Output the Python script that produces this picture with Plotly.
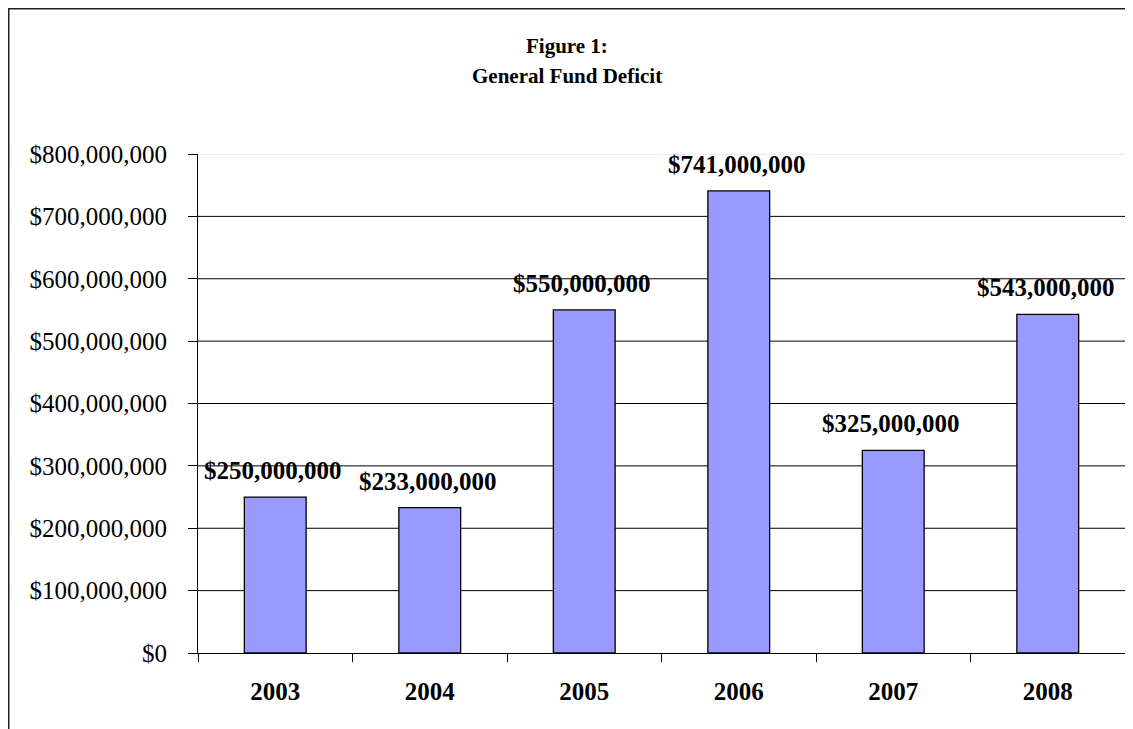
import plotly.graph_objects as go

years = ["2003", "2004", "2005", "2006", "2007", "2008"]
deficits = [250000000, 233000000, 550000000, 741000000, 325000000, 543000000]
data_labels = ["$250,000,000", "$233,000,000", "$550,000,000", "$741,000,000", "$325,000,000", "$543,000,000"]
tick_values = [0, 100000000, 200000000, 300000000, 400000000, 500000000, 600000000, 700000000, 800000000]
tick_labels = ["$0", "$100,000,000", "$200,000,000", "$300,000,000", "$400,000,000",
               "$500,000,000", "$600,000,000", "$700,000,000", "$800,000,000"]
title_lines = ["Figure 1:", "General Fund Deficit"]

FONT = "Liberation Serif"

# page has an 8px body margin; figure spans page x 8..1133, y 8..729
W, H = 1125, 721
L, R, T, B = 190, 8, 146, 76
PW, PH = W - L - R, H - T - B


def px_x(page_x):
    return (page_x - 8 - L) / PW


def px_y(page_y):
    return (H - B - (page_y - 8)) / PH


fig = go.Figure()
fig.add_trace(go.Bar(
    x=years, y=deficits, width=0.4,
    marker=dict(color="#9999FF", line=dict(color="black", width=1.3)),
    hoverinfo="skip",
))

# Data labels (category index positions on the category axis)
for i, (v, lab) in enumerate(zip(deficits, data_labels)):
    fig.add_annotation(x=i, y=v, xref="x", yref="y", text="<b>" + lab + "</b>", showarrow=False,
                       yanchor="bottom", yshift=11, xshift=-2,
                       font=dict(family=FONT, size=25, color="black"))

# Gridlines as shapes (top one light gray)
shapes = []
for tv in tick_values[1:]:
    shapes.append(dict(type="line", xref="paper", x0=0, x1=1, yref="y", y0=tv, y1=tv,
                       line=dict(color="#D9D9D9" if tv == tick_values[-1] else "black", width=1),
                       layer="below"))
# Outer chart border (left and top visible)
shapes.append(dict(type="rect", xref="paper", yref="paper",
                   x0=(0.75 - L) / PW, x1=(W + 20 - L) / PW,
                   y0=-(B + 20) / PH, y1=(H - B - 0.75) / PH,
                   line=dict(color="#222222", width=1.5), fillcolor="rgba(0,0,0,0)", layer="below"))

fig.update_layout(
    width=W, height=H,
    margin=dict(l=L, r=R, t=T, b=B, pad=0),
    paper_bgcolor="white", plot_bgcolor="white",
    showlegend=False,
    shapes=shapes,
    font=dict(family=FONT, color="black"),
)

for line_text, page_y in zip(title_lines, [46, 76]):
    fig.add_annotation(xref="paper", yref="paper", x=px_x(567), y=px_y(page_y),
                       text="<b>" + line_text + "</b>", showarrow=False,
                       xanchor="center", yanchor="middle",
                       font=dict(family=FONT, size=21, color="black"))

fig.update_yaxes(
    range=[0, 800000000], tickvals=tick_values, ticktext=tick_labels,
    showgrid=False, zeroline=False,
    showline=True, linecolor="black", linewidth=1,
    ticks="outside", ticklen=9, tickcolor="black", tickwidth=1,
    ticklabelstandoff=16,
    tickfont=dict(family=FONT, size=25, color="black"),
)
fig.update_xaxes(
    type="category", range=[-0.5, len(years) - 0.5],
    showgrid=False, showline=True, linecolor="black", linewidth=1,
    ticks="outside", ticklen=8, tickcolor="black", tickwidth=1,
    tickson="boundaries",
    ticklabelstandoff=16,
    tickfont=dict(family=FONT, size=25, color="black"),
    tickprefix="<b>", ticksuffix="</b>",
)

fig.write_html("out.html")
